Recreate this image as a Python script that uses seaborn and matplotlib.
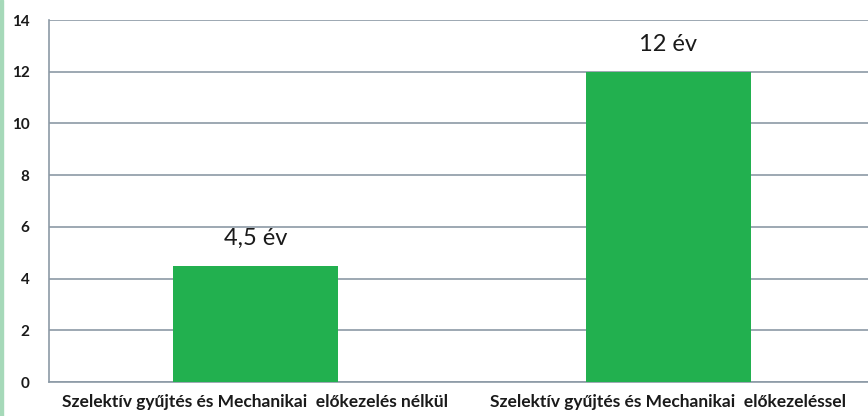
import pandas as pd
import seaborn as sns
import matplotlib.pyplot as plt
from matplotlib.patches import Rectangle

# adatok
categories = [
    "Szelektív gyűjtés és Mechanikai  előkezelés nélkül",
    "Szelektív gyűjtés és Mechanikai  előkezeléssel",
]
values = [4.5, 12]
labels = ["4,5 év", "12 év"]
yticks = [0, 2, 4, 6, 8, 10, 12, 14]

df = pd.DataFrame({"kategoria": categories, "ev": values})

sns.set_style("white")
plt.rcParams["font.family"] = ["Lato", "DejaVu Sans"]

fig = plt.figure(figsize=(8.68, 4.16), dpi=100)
ax = fig.add_axes([49 / 868, 34 / 416, 826 / 868, 362 / 416])

# bal oldali zöld csík
fig.patches.append(Rectangle((0, 0), 3 / 868, 1, transform=fig.transFigure,
                             color="#a6d9b9", zorder=0))

sns.barplot(data=df, x="kategoria", y="ev", color="#22b04f", saturation=1,
            width=0.4, ax=ax, zorder=3, edgecolor="none")

grid_color = "#8c9aa6"
ax.set_ylim(0, 14)
ax.set_xlim(-0.5, 1.5)
ax.set_yticks(yticks)
ax.yaxis.grid(True, color=grid_color, linewidth=1.2, zorder=0)
ax.set_axisbelow(True)

for s in ["top", "right"]:
    ax.spines[s].set_visible(False)
ax.spines["left"].set_color(grid_color)
ax.spines["left"].set_linewidth(1.2)
ax.spines["bottom"].set_color(grid_color)
ax.spines["bottom"].set_linewidth(1.2)

ax.set_xticks([0.5], minor=True)
ax.tick_params(axis="x", which="major", length=0, pad=9)
ax.tick_params(axis="x", which="minor", length=5, color=grid_color, width=1.2)
ax.tick_params(axis="y", length=6, color=grid_color, width=1.2, pad=8)
for t in ax.get_yticklabels():
    t.set_fontsize(11)
    t.set_fontweight("bold")
    t.set_color("#1a1a1a")
for t in ax.get_xticklabels():
    t.set_fontsize(12.5)
    t.set_fontweight("bold")
    t.set_color("#1a1a1a")

ax.set_xlabel("")
ax.set_ylabel("")

for i, (v, lab) in enumerate(zip(values, labels)):
    ax.text(i, v + 1.05, lab, ha="center", va="center", fontsize=17,
            color="#1a1a1a")

fig.savefig("out.png", dpi=100)
